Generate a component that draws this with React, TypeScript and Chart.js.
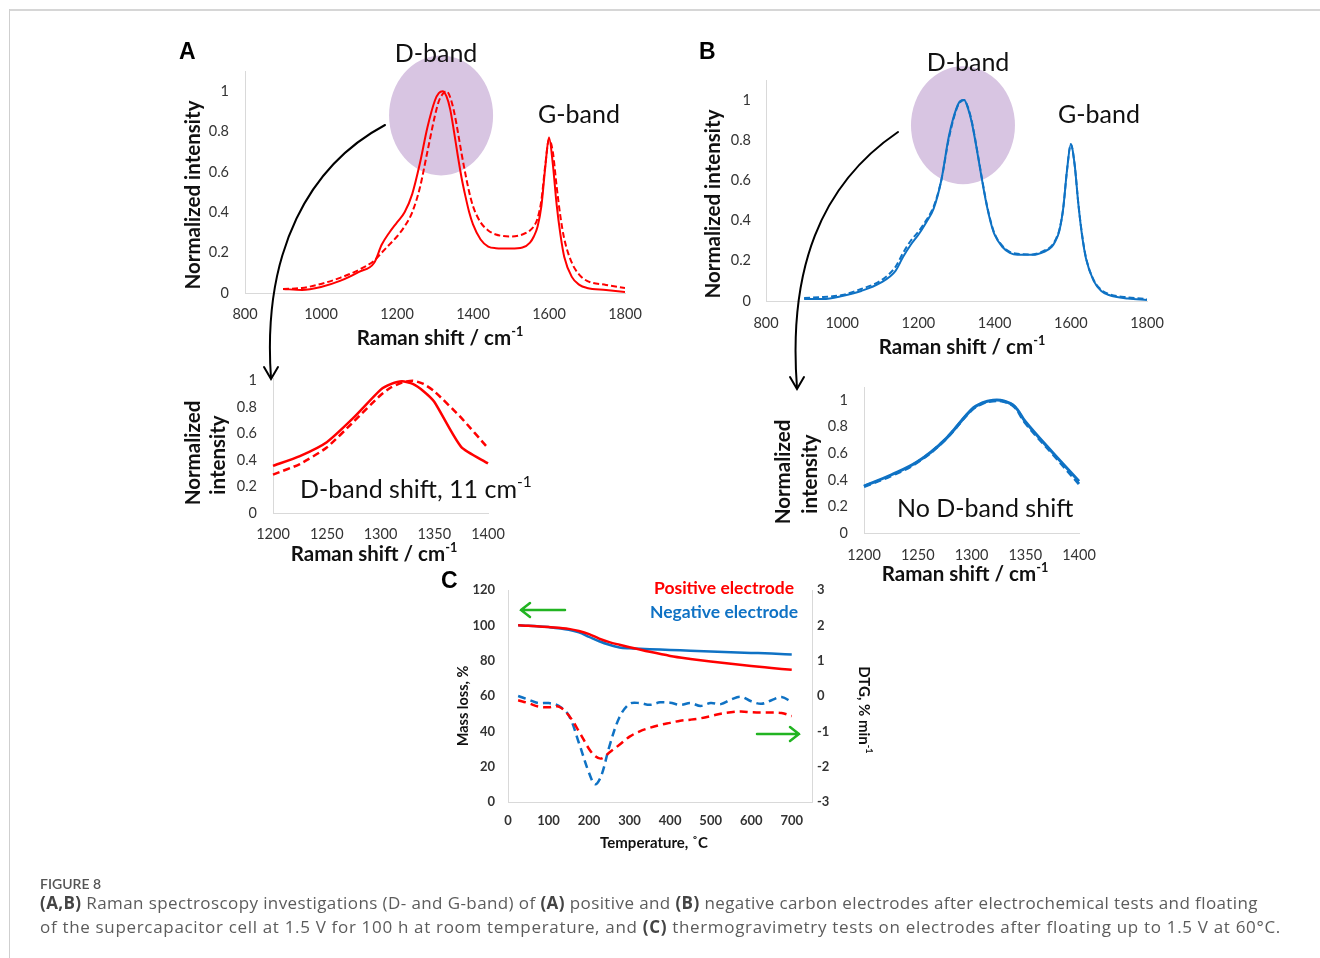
import React, { useEffect, useRef } from 'react';
import { Chart, registerables } from 'chart.js';

Chart.register(...registerables);

// ---------- DATA ----------
const ramanShift = [900, 950, 1000, 1050, 1100, 1140, 1160, 1180, 1200, 1220, 1240, 1260, 1280, 1300, 1310, 1320, 1330, 1340, 1350, 1360, 1370, 1380, 1390, 1400, 1420, 1440, 1460, 1500, 1530, 1550, 1560, 1570, 1580, 1590, 1600, 1610, 1620, 1630, 1640, 1660, 1680, 1700, 1750, 1800];
const posAfter = [0.02, 0.015, 0.03, 0.06, 0.105, 0.15, 0.24, 0.3, 0.35, 0.4, 0.49, 0.64, 0.82, 0.955, 0.99, 1.0, 0.975, 0.91, 0.8, 0.68, 0.57, 0.48, 0.4, 0.34, 0.265, 0.23, 0.222, 0.22, 0.225, 0.25, 0.28, 0.33, 0.43, 0.62, 0.77, 0.64, 0.44, 0.29, 0.18, 0.08, 0.04, 0.025, 0.015, 0.005];
const posBefore = [0.02, 0.025, 0.045, 0.075, 0.115, 0.16, 0.2, 0.24, 0.28, 0.33, 0.4, 0.52, 0.7, 0.88, 0.95, 0.985, 1.0, 0.97, 0.9, 0.8, 0.69, 0.59, 0.5, 0.43, 0.35, 0.31, 0.29, 0.28, 0.29, 0.31, 0.33, 0.37, 0.46, 0.63, 0.76, 0.7, 0.53, 0.38, 0.27, 0.15, 0.09, 0.06, 0.04, 0.025];
const negAfter = [0.01, 0.01, 0.025, 0.05, 0.09, 0.15, 0.22, 0.28, 0.33, 0.39, 0.46, 0.6, 0.82, 0.96, 0.995, 1.0, 0.96, 0.89, 0.79, 0.68, 0.57, 0.47, 0.39, 0.33, 0.27, 0.24, 0.23, 0.23, 0.245, 0.27, 0.3, 0.35, 0.46, 0.65, 0.78, 0.68, 0.48, 0.32, 0.21, 0.1, 0.05, 0.03, 0.012, 0.005];
const negBefore = [0.015, 0.02, 0.03, 0.06, 0.1, 0.17, 0.24, 0.3, 0.345, 0.4, 0.47, 0.6, 0.81, 0.955, 0.99, 1.0, 0.965, 0.895, 0.795, 0.685, 0.575, 0.475, 0.395, 0.335, 0.275, 0.245, 0.235, 0.232, 0.25, 0.275, 0.305, 0.355, 0.46, 0.65, 0.78, 0.68, 0.48, 0.325, 0.215, 0.105, 0.055, 0.035, 0.018, 0.01];

const insetShift = [1200, 1225, 1250, 1275, 1300, 1310, 1320, 1330, 1340, 1350, 1375, 1400];
const insetPosAfter = [0.356, 0.43, 0.535, 0.72, 0.93, 0.975, 0.995, 0.975, 0.92, 0.84, 0.5, 0.375];
const insetPosBefore = [0.29, 0.37, 0.495, 0.69, 0.89, 0.95, 0.985, 1.0, 0.975, 0.92, 0.72, 0.49];
const insetNegAfter = [0.354, 0.437, 0.538, 0.7, 0.93, 0.98, 1.0, 0.995, 0.955, 0.84, 0.61, 0.39];
const insetNegBefore = [0.35, 0.43, 0.535, 0.7, 0.925, 0.975, 0.995, 0.99, 0.95, 0.83, 0.6, 0.37];

const tgTemp = [25, 50, 100, 150, 175, 200, 225, 250, 275, 300, 350, 400, 450, 500, 550, 600, 650, 700];
const tgPositive = [100, 99.8, 99, 98, 96.8, 95, 92.5, 90.5, 89, 87.6, 85, 82.7, 81, 79.5, 78.2, 77, 75.9, 74.8];
const tgNegative = [100, 99.8, 99, 97.5, 96, 93.5, 91, 89, 87.5, 87, 86.5, 86.1, 85.6, 85.2, 84.8, 84.4, 84, 83.5];

const dtgTemp = [25, 50, 75, 100, 125, 150, 175, 200, 215, 230, 250, 275, 300, 325, 350, 375, 400, 425, 450, 475, 500, 525, 550, 575, 600, 625, 650, 675, 700];
const dtgPositive = [-0.12, -0.2, -0.3, -0.32, -0.3, -0.55, -1.0, -1.5, -1.7, -1.77, -1.6, -1.38, -1.15, -1.0, -0.9, -0.82, -0.76, -0.7, -0.67, -0.63, -0.57, -0.5, -0.46, -0.44, -0.46, -0.47, -0.47, -0.48, -0.57];
const dtgNegative = [0, -0.1, -0.2, -0.2, -0.28, -0.55, -1.33, -2.18, -2.5, -2.26, -1.43, -0.6, -0.22, -0.2, -0.25, -0.18, -0.19, -0.25, -0.2, -0.28, -0.2, -0.23, -0.1, -0.02, -0.15, -0.22, -0.12, -0.03, -0.17];

const ramanTicks = [800, 1000, 1200, 1400, 1600, 1800];
const insetTicks = [1200, 1250, 1300, 1350, 1400];
const intensityTicks = [0, 0.2, 0.4, 0.6, 0.8, 1];
const tempTicks = [0, 100, 200, 300, 400, 500, 600, 700];
const massTicks = [0, 20, 40, 60, 80, 100, 120];
const dtgTicks = [-3, -2, -1, 0, 1, 2, 3];

// ---------- STYLE ----------
const RED = '#ff0000';
const BLUE = '#0f72c4';
const AXIS = '#d9d9d9';
const TICK = '#333333';
const FONT = 'Lato, "Open Sans", sans-serif';
const CAP_FONT = '"Open Sans", Lato, sans-serif';
const PURPLE = 'rgb(216,197,226)';
const GREEN = '#22b422';

const FONT_LOADS = ['bold 18px Lato', '18px Lato', 'bold 23px "Liberation Sans"', '16px "Open Sans"', 'bold 16px "Open Sans"', '600 14px Lato'];
const fontsReady = (): Promise<any> => {
  const fs: any = (document as any).fonts;
  if (!fs || !fs.load) return Promise.resolve();
  return Promise.all(FONT_LOADS.map((f) => fs.load(f).catch(() => null))).catch(() => null);
};

const pts = (xs: number[], ys: number[]) => xs.map((x, i) => ({ x, y: ys[i] }));

type TItem = { t: string; sup?: string; x: number; y: number; f: string; c?: string; a?: 'left' | 'center' | 'right'; r?: number };

function drawTexts(ctx: CanvasRenderingContext2D, items: TItem[], ox: number, oy: number) {
  for (const it of items) {
    ctx.save();
    ctx.translate(it.x - ox, it.y - oy);
    if (it.r) ctx.rotate(it.r);
    ctx.fillStyle = it.c || '#111';
    ctx.textBaseline = 'middle';
    ctx.textAlign = 'left';
    ctx.font = it.f;
    const w = ctx.measureText(it.t).width;
    const m = it.f.match(/(\d+(\.\d+)?)px/);
    const size = m ? parseFloat(m[1]) : 16;
    const supF = it.f.replace(/(\d+(\.\d+)?)px/, (size * 0.62).toFixed(1) + 'px');
    let sw = 0;
    if (it.sup) {
      ctx.font = supF;
      sw = ctx.measureText(it.sup).width;
      ctx.font = it.f;
    }
    const total = w + sw;
    const a = it.a || 'center';
    const x0 = a === 'left' ? 0 : a === 'right' ? -total : -total / 2;
    ctx.fillText(it.t, x0, 0);
    if (it.sup) {
      ctx.font = supF;
      ctx.fillText(it.sup, x0 + w, -size * 0.32);
    }
    ctx.restore();
  }
}

function scale(o: { dir: 'x' | 'y'; min: number; max: number; ticks: number[]; fit: number; font: any; pad: number; position?: string }) {
  return {
    type: 'linear',
    position: o.position || (o.dir === 'x' ? 'bottom' : 'left'),
    min: o.min,
    max: o.max,
    grid: { display: false, drawTicks: false },
    border: { display: true, color: AXIS, width: 1 },
    ticks: {
      font: o.font,
      color: TICK,
      padding: o.pad,
      autoSkip: false,
      maxRotation: 0,
      callback: (v: any) => String(v),
    },
    afterBuildTicks: (s: any) => {
      s.ticks = o.ticks.map((v) => ({ value: v }));
    },
    afterFit: (s: any) => {
      if (o.dir === 'x') s.height = o.fit;
      else s.width = o.fit;
      s.paddingLeft = 0;
      s.paddingRight = 0;
      s.paddingTop = 0;
      s.paddingBottom = 0;
    },
  };
}

type BoxProps = { left: number; top: number; width: number; height: number; make: (ox: number, oy: number) => any };

function ChartBox({ left, top, width, height, make }: BoxProps) {
  const ref = useRef<HTMLCanvasElement | null>(null);
  useEffect(() => {
    let chart: Chart | null = null;
    let cancelled = false;
    fontsReady().then(() => {
      if (cancelled || !ref.current) return;
      chart = new Chart(ref.current, make(left, top));
    });
    return () => {
      cancelled = true;
      if (chart) chart.destroy();
    };
  }, []);
  return (
    <canvas
      ref={ref}
      width={width}
      height={height}
      style={{ position: 'absolute', left, top, width, height }}
    />
  );
}

const baseOptions = (pad: any) => ({
  responsive: false,
  animation: false,
  layout: { padding: pad },
  plugins: { legend: { display: false }, tooltip: { enabled: false } },
  elements: { point: { radius: 0 } },
});

function ramanConfig(
  ox: number, oy: number, color: string, after: number[], before: number[],
  pad: any, yFit: number, xFit: number, ellipse: { cx: number; cy: number; rx: number; ry: number },
  texts: TItem[], tickPadY: number, tickPadX: number
) {
  return {
    type: 'line',
    data: {
      datasets: [
        { data: pts(ramanShift, before), borderColor: color, borderWidth: 2, borderDash: [6, 3], pointRadius: 0, cubicInterpolationMode: 'monotone', fill: false },
        { data: pts(ramanShift, after), borderColor: color, borderWidth: 2, pointRadius: 0, cubicInterpolationMode: 'monotone', fill: false },
      ],
    },
    options: {
      ...baseOptions(pad),
      scales: {
        x: scale({ dir: 'x', min: 800, max: 1800, ticks: ramanTicks, fit: xFit, font: { family: FONT, size: 14.5 }, pad: tickPadX }),
        y: scale({ dir: 'y', min: 0, max: 1.1, ticks: intensityTicks, fit: yFit, font: { family: FONT, size: 14.5 }, pad: tickPadY }),
      },
    },
    plugins: [
      {
        id: 'deco',
        beforeDatasetsDraw(chart: any) {
          const ctx = chart.ctx;
          const xs = chart.scales.x, ys = chart.scales.y;
          ctx.save();
          ctx.fillStyle = PURPLE;
          ctx.beginPath();
          ctx.ellipse(xs.getPixelForValue(ellipse.cx), ys.getPixelForValue(ellipse.cy), ellipse.rx, ellipse.ry, 0, 0, Math.PI * 2);
          ctx.fill();
          ctx.restore();
        },
        afterDraw(chart: any) {
          drawTexts(chart.ctx, texts, ox, oy);
        },
      },
    ],
  };
}

function insetConfig(
  ox: number, oy: number, color: string, after: number[], before: number[],
  pad: any, yFit: number, xFit: number, yMax: number, tension: number, texts: TItem[], tickPadY: number, tickPadX: number, lw: number
) {
  return {
    type: 'line',
    data: {
      datasets: [
        { data: pts(insetShift, before), borderColor: color, borderWidth: lw, borderDash: [7, 4], pointRadius: 0, tension, fill: false, clip: false },
        { data: pts(insetShift, after), borderColor: color, borderWidth: lw, pointRadius: 0, tension, fill: false, clip: false },
      ],
    },
    options: {
      ...baseOptions(pad),
      scales: {
        x: scale({ dir: 'x', min: 1200, max: 1400, ticks: insetTicks, fit: xFit, font: { family: FONT, size: 14.5 }, pad: tickPadX }),
        y: scale({ dir: 'y', min: 0, max: yMax, ticks: intensityTicks, fit: yFit, font: { family: FONT, size: 14.5 }, pad: tickPadY }),
      },
    },
    plugins: [
      {
        id: 'deco',
        afterDraw(chart: any) {
          drawTexts(chart.ctx, texts, ox, oy);
        },
      },
    ],
  };
}

function arrow(ctx: CanvasRenderingContext2D, x1: number, y1: number, x2: number, y2: number) {
  const dir = Math.sign(x2 - x1);
  ctx.save();
  ctx.strokeStyle = GREEN;
  ctx.lineWidth = 2.5;
  ctx.lineCap = 'round';
  ctx.beginPath();
  ctx.moveTo(x1, y1);
  ctx.lineTo(x2, y2);
  ctx.moveTo(x2 - dir * 9, y2 - 7);
  ctx.lineTo(x2, y2);
  ctx.lineTo(x2 - dir * 9, y2 + 7);
  ctx.stroke();
  ctx.restore();
}

function tgConfig(ox: number, oy: number) {
  const bold = { family: FONT, size: 13, weight: 'bold' };
  const texts: TItem[] = [
    { t: 'C', x: 441, y: 582, f: 'bold 23px "Liberation Sans", Arial, sans-serif', a: 'left', c: '#000' },
    { t: 'Positive electrode', x: 794, y: 588, f: `bold 17.5px ${FONT}`, a: 'right', c: RED },
    { t: 'Negative electrode', x: 798, y: 612, f: `bold 17.5px ${FONT}`, a: 'right', c: BLUE },
    { t: 'Mass loss, %', x: 463, y: 706, f: `bold 14.5px ${FONT}`, r: -Math.PI / 2 },
    { t: 'DTG, % min', sup: '-1', x: 864, y: 710, f: `bold 15px ${FONT}`, r: Math.PI / 2 },
    { t: 'Temperature, ˚C', x: 654, y: 843, f: `bold 15px ${FONT}` },
  ];
  return {
    type: 'line',
    data: {
      datasets: [
        { data: pts(tgTemp, tgPositive), yAxisID: 'y', borderColor: RED, borderWidth: 2.5, pointRadius: 0, cubicInterpolationMode: 'monotone', fill: false },
        { data: pts(tgTemp, tgNegative), yAxisID: 'y', borderColor: BLUE, borderWidth: 2.5, pointRadius: 0, cubicInterpolationMode: 'monotone', fill: false },
        { data: pts(dtgTemp, dtgPositive), yAxisID: 'y1', borderColor: RED, borderWidth: 2.5, borderDash: [8, 5], pointRadius: 0, tension: 0.35, fill: false },
        { data: pts(dtgTemp, dtgNegative), yAxisID: 'y1', borderColor: BLUE, borderWidth: 2.5, borderDash: [8, 5], pointRadius: 0, tension: 0.35, fill: false },
      ],
    },
    options: {
      ...baseOptions({ left: 0, right: 0, top: 20, bottom: 0 }),
      scales: {
        x: scale({ dir: 'x', min: 0, max: 750, ticks: tempTicks, fit: 53, font: bold, pad: 11 }),
        y: scale({ dir: 'y', min: 0, max: 120, ticks: massTicks, fit: 68, font: bold, pad: 13 }),
        y1: scale({ dir: 'y', min: -3, max: 3, ticks: dtgTicks, fit: 68, font: bold, pad: 5, position: 'right' }),
      },
    },
    plugins: [
      {
        id: 'deco',
        afterDraw(chart: any) {
          const ctx = chart.ctx;
          drawTexts(ctx, texts, ox, oy);
          arrow(ctx, 565 - ox, 610 - oy, 521 - ox, 610 - oy);
          arrow(ctx, 757 - ox, 734 - oy, 799 - ox, 734 - oy);
        },
      },
    ],
  };
}

const ARIAL_B = 'bold 23px "Liberation Sans", Arial, sans-serif';
const TITLE_F = `bold 20.5px ${FONT}`;
const LABEL_F = `25px ${FONT}`;

const textsA: TItem[] = [
  { t: 'A', x: 179, y: 53, f: ARIAL_B, a: 'left', c: '#000' },
  { t: 'D-band', x: 436, y: 54, f: LABEL_F },
  { t: 'G-band', x: 579, y: 115, f: LABEL_F },
  { t: 'Normalized intensity', x: 193, y: 195, f: TITLE_F, r: -Math.PI / 2 },
  { t: 'Raman shift / cm', sup: '-1', x: 440, y: 338, f: TITLE_F },
];
const textsB: TItem[] = [
  { t: 'B', x: 699, y: 53, f: ARIAL_B, a: 'left', c: '#000' },
  { t: 'D-band', x: 968, y: 63, f: LABEL_F },
  { t: 'G-band', x: 1099, y: 115, f: LABEL_F },
  { t: 'Normalized intensity', x: 713, y: 204, f: TITLE_F, r: -Math.PI / 2 },
  { t: 'Raman shift / cm', sup: '-1', x: 962, y: 347, f: TITLE_F },
];
const textsInsetA: TItem[] = [
  { t: 'Normalized', x: 193, y: 453, f: TITLE_F, r: -Math.PI / 2 },
  { t: 'intensity', x: 218, y: 455, f: TITLE_F, r: -Math.PI / 2 },
  { t: 'D-band shift, 11 cm', sup: '-1', x: 300, y: 490, f: LABEL_F, a: 'left' },
  { t: 'Raman shift / cm', sup: '-1', x: 374, y: 554, f: TITLE_F },
];
const textsInsetB: TItem[] = [
  { t: 'Normalized', x: 783, y: 472, f: TITLE_F, r: -Math.PI / 2 },
  { t: 'intensity', x: 810, y: 474, f: TITLE_F, r: -Math.PI / 2 },
  { t: 'No D-band shift', x: 897, y: 509, f: LABEL_F, a: 'left' },
  { t: 'Raman shift / cm', sup: '-1', x: 965, y: 574, f: TITLE_F },
];

function fitWidth(el: HTMLElement | null, target: number) {
  if (!el) return;
  el.style.letterSpacing = '0px';
  const w = el.getBoundingClientRect().width;
  const n = (el.textContent || '').length;
  if (n > 0) el.style.letterSpacing = ((target - w) / n).toFixed(3) + 'px';
}

export default function App() {
  const cap1 = useRef<HTMLDivElement | null>(null);
  const cap2 = useRef<HTMLDivElement | null>(null);
  useEffect(() => {
    fontsReady().then(() => {
      fitWidth(cap1.current, 1218);
      fitWidth(cap2.current, 1241);
    });
  }, []);
  const capStyle: React.CSSProperties = {
    position: 'absolute', left: 40, whiteSpace: 'nowrap', fontFamily: CAP_FONT, fontSize: 17, color: '#5c5c5c', lineHeight: '22px',
  };
  const b: React.CSSProperties = { fontWeight: 700, color: '#444' };
  return (
    <div style={{ position: 'absolute', left: 0, top: 0, width: 1320, height: 958, background: '#fff', overflow: 'hidden' }}>
      <div style={{ position: 'absolute', left: 10, top: 9, width: 1310, height: 2, background: '#d6d6d6' }} />
      <div style={{ position: 'absolute', left: 9, top: 9, width: 1, height: 949, background: '#cfcfcf' }} />

      <ChartBox left={170} top={40} width={485} height={320}
        make={(ox, oy) => ramanConfig(ox, oy, RED, posAfter, posBefore, { left: 0, right: 30, top: 31, bottom: 0 }, 75, 67, { cx: 1316, cy: 0.88, rx: 52, ry: 60 }, textsA, 16, 13)} />
      <ChartBox left={690} top={40} width={480} height={325}
        make={(ox, oy) => ramanConfig(ox, oy, BLUE, negAfter, negBefore, { left: 0, right: 23, top: 40, bottom: 0 }, 76, 64, { cx: 1317, cy: 0.875, rx: 52, ry: 59 }, textsB, 15, 14)} />
      <ChartBox left={175} top={365} width={370} height={200}
        make={(ox, oy) => insetConfig(ox, oy, RED, insetPosAfter, insetPosBefore, { left: 0, right: 57, top: 13, bottom: 0 }, 98, 52, 1.02, 0.2, textsInsetA, 16, 13, 2.5)} />
      <ChartBox left={765} top={375} width={350} height={215}
        make={(ox, oy) => insetConfig(ox, oy, BLUE, insetNegAfter, insetNegBefore, { left: 0, right: 36, top: 12, bottom: 0 }, 99, 57, 1.1, 0.4, textsInsetB, 16, 14, 3)} />
      <ChartBox left={440} top={570} width={440} height={285} make={(ox, oy) => tgConfig(ox, oy)} />

      <svg width={1320} height={958} style={{ position: 'absolute', left: 0, top: 0, pointerEvents: 'none' }}>
        <g fill="none" stroke="#000" strokeWidth={2} strokeLinecap="round">
          <path d="M385,125 C310,165 262,250 271,378" />
          <path d="M264,367 L271,379 L278,367" />
          <path d="M898,132 C820,185 788,270 797,388" />
          <path d="M790,377 L797,389 L804,377" />
        </g>
      </svg>

      <div style={{ ...capStyle, fontFamily: FONT, top: 876, fontSize: 14, color: '#555', lineHeight: '16px', fontWeight: 600 }}>FIGURE 8</div>
      <div ref={cap1} style={{ ...capStyle, top: 892 }}>
        <span style={b}>(A,B)</span> Raman spectroscopy investigations (D- and G-band) of <span style={b}>(A)</span> positive and <span style={b}>(B)</span> negative carbon electrodes after electrochemical tests and floating
      </div>
      <div ref={cap2} style={{ ...capStyle, top: 916 }}>
        of the supercapacitor cell at 1.5 V for 100 h at room temperature, and <span style={b}>(C)</span> thermogravimetry tests on electrodes after floating up to 1.5 V at 60°C.
      </div>
    </div>
  );
}
